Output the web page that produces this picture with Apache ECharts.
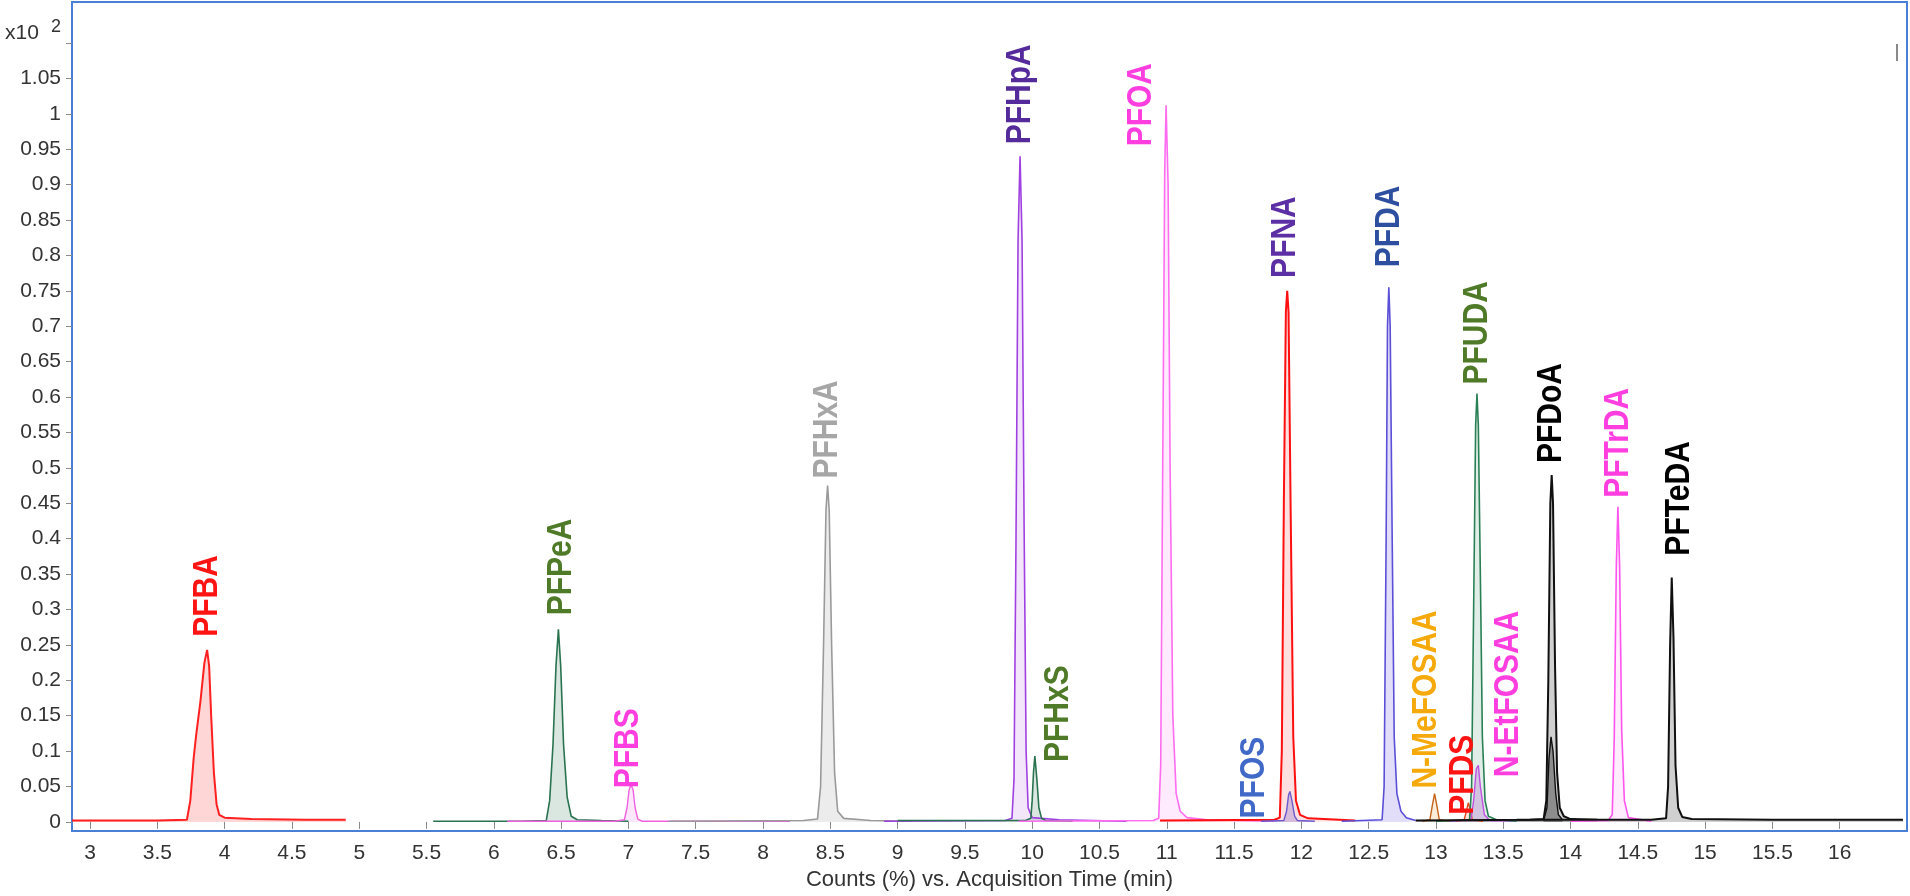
<!DOCTYPE html>
<html>
<head>
<meta charset="utf-8">
<title>PFAS chromatogram</title>
<script src="https://cdn.jsdelivr.net/npm/echarts@6/dist/echarts.min.js"></script>
<style>
  html, body { margin: 0; padding: 0; background: #ffffff; }
  #chart { width: 1910px; height: 896px; }
</style>
</head>
<body>
<div id="chart"></div>
<script>
// Axis tick positions (min and counts x10^2)
const timeTicks = [3, 3.5, 4, 4.5, 5, 5.5, 6, 6.5, 7, 7.5, 8, 8.5, 9, 9.5, 10, 10.5, 11, 11.5, 12, 12.5, 13, 13.5, 14, 14.5, 15, 15.5, 16];
const countTicks = [0, 0.05, 0.1, 0.15, 0.2, 0.25, 0.3, 0.35, 0.4, 0.45, 0.5, 0.55, 0.6, 0.65, 0.7, 0.75, 0.8, 0.85, 0.9, 0.95, 1, 1.05];

// Extracted ion chromatograms: [retention time (min), counts (x10^2)]
const pfba = [[2.866,0.002],[3.5,0.002],[3.72,0.003],[3.745,0.03],[3.77,0.09],[3.79,0.125],[3.82,0.17],[3.85,0.225],[3.87,0.243],[3.885,0.22],[3.9,0.15],[3.92,0.07],[3.94,0.025],[3.96,0.01],[4.0,0.006],[4.2,0.004],[4.6,0.003],[4.9,0.003]];
const pfpea = [[5.55,0.001],[6.2,0.001],[6.39,0.002],[6.415,0.03],[6.44,0.11],[6.462,0.22],[6.48,0.272],[6.497,0.22],[6.518,0.11],[6.545,0.035],[6.575,0.008],[6.62,0.003],[6.8,0.002],[7.0,0.001]];
const pfbs = [[6.1,0.001],[6.9,0.001],[6.97,0.003],[6.99,0.02],[7.005,0.045],[7.02,0.053],[7.035,0.045],[7.05,0.02],[7.07,0.004],[7.1,0.001],[8.2,0.001]];
const pfhxa = [[7.3,0.001],[8.3,0.002],[8.405,0.004],[8.428,0.05],[8.45,0.25],[8.468,0.44],[8.48,0.475],[8.492,0.44],[8.51,0.25],[8.532,0.07],[8.555,0.015],[8.6,0.005],[8.8,0.002],[9.1,0.001]];
const pfhpa = [[8.9,0.001],[9.8,0.002],[9.85,0.005],[9.865,0.06],[9.88,0.4],[9.895,0.82],[9.91,0.94],[9.925,0.82],[9.94,0.42],[9.955,0.1],[9.97,0.02],[10.0,0.006],[10.2,0.003],[10.7,0.001]];
const pfhxs = [[9.0,0.002],[9.95,0.002],[9.99,0.005],[10.0,0.03],[10.01,0.07],[10.02,0.093],[10.035,0.06],[10.05,0.02],[10.07,0.005],[10.1,0.002],[10.3,0.001]];
const pfoa = [[9.9,0.001],[10.9,0.002],[10.94,0.005],[10.955,0.08],[10.97,0.5],[10.985,0.92],[10.995,1.012],[11.01,0.9],[11.025,0.5],[11.045,0.15],[11.07,0.04],[11.1,0.015],[11.15,0.006],[11.3,0.003],[11.8,0.001]];
const pfna = [[10.95,0.002],[11.8,0.003],[11.84,0.006],[11.855,0.1],[11.87,0.45],[11.885,0.72],[11.895,0.75],[11.905,0.72],[11.92,0.45],[11.94,0.12],[11.96,0.03],[11.99,0.01],[12.05,0.005],[12.4,0.002]];
const pfos = [[11.7,0.001],[11.87,0.002],[11.89,0.015],[11.905,0.038],[11.915,0.043],[11.93,0.03],[11.95,0.008],[11.97,0.002],[12.1,0.001]];
const pfda = [[12.3,0.001],[12.6,0.003],[12.615,0.05],[12.63,0.4],[12.64,0.7],[12.65,0.755],[12.66,0.7],[12.675,0.4],[12.69,0.12],[12.71,0.04],[12.74,0.015],[12.78,0.006],[12.85,0.002]];
const nMeFosaa = [[12.9,0.001],[12.955,0.003],[12.975,0.025],[12.99,0.04],[13.005,0.025],[13.025,0.003],[13.1,0.001]];
const pfds = [[13.15,0.001],[13.21,0.003],[13.23,0.018],[13.24,0.027],[13.255,0.018],[13.27,0.003],[13.35,0.001]];
const nEtFosaa = [[13.1,0.001],[13.26,0.003],[13.28,0.03],[13.3,0.075],[13.315,0.08],[13.33,0.05],[13.36,0.01],[13.4,0.002],[13.6,0.001]];
const pfuda = [[13.0,0.001],[13.25,0.003],[13.265,0.05],[13.28,0.3],[13.295,0.56],[13.305,0.605],[13.315,0.56],[13.33,0.35],[13.345,0.12],[13.365,0.03],[13.39,0.008],[13.45,0.003],[13.6,0.001]];
const pfdoa = [[12.85,0.002],[13.7,0.003],[13.8,0.004],[13.82,0.03],[13.835,0.2],[13.85,0.45],[13.86,0.49],[13.87,0.45],[13.885,0.22],[13.9,0.07],[13.92,0.02],[13.95,0.008],[14.0,0.004],[14.2,0.003]];
const pfdoaQual = [[13.8,0.002],[13.825,0.02],[13.84,0.09],[13.855,0.12],[13.87,0.1],[13.89,0.04],[13.91,0.01],[13.94,0.003]];
const pftrda = [[14.0,0.001],[14.28,0.002],[14.31,0.01],[14.325,0.12],[14.34,0.36],[14.352,0.445],[14.365,0.36],[14.38,0.13],[14.4,0.03],[14.43,0.006],[14.6,0.001]];
const pfteda = [[13.6,0.003],[14.6,0.003],[14.71,0.005],[14.725,0.05],[14.74,0.25],[14.752,0.345],[14.765,0.26],[14.78,0.08],[14.8,0.02],[14.83,0.007],[14.9,0.004],[15.5,0.003],[16.47,0.003]];

// Drawing styles per trace: line colour, fill, label text colour, label nudges (px)
const OLIVE = '#4f7a28', MAGENTA = '#ff3ee0';
const traces = [
  { name: 'PFBA',      data: pfba,      line: '#ff2020', fill: 'rgba(255,70,70,0.32)',   width: 2,   text: '#ff1414', dx: 0,   gap: 13 },
  { name: 'PFPeA',     data: pfpea,     line: '#2a7350', fill: 'rgba(40,120,80,0.25)',   width: 1.6, text: OLIVE,     dx: 3,   gap: 14 },
  { name: 'PFBS',      data: pfbs,      line: '#f060e0', fill: 'rgba(240,96,224,0.22)',  width: 1.4, text: MAGENTA,   dx: -3,  gap: -4 },
  { name: 'PFHxA',     data: pfhxa,     line: '#9a9a9a', fill: 'rgba(175,175,175,0.35)', width: 1.6, text: '#a6a6a6', dx: 0,   gap: 7 },
  { name: 'PFHpA',     data: pfhpa,     line: '#a040e0', fill: 'rgba(170,80,230,0.2)',   width: 1.6, text: '#552b9c', dx: 0,   gap: 12 },
  { name: 'PFHxS',     data: pfhxs,     line: '#2a7350', fill: 'rgba(40,120,80,0.25)',   width: 1.6, text: OLIVE,     dx: 23,  gap: -6 },
  { name: 'PFOA',      data: pfoa,      line: '#ff6cf0', fill: 'rgba(255,112,240,0.2)',  width: 1.6, text: MAGENTA,   dx: -25, gap: -41 },
  { name: 'PFNA',      data: pfna,      line: '#ff1010', fill: 'rgba(255,80,80,0.25)',   width: 2,   text: '#5d2fa5', dx: -2,  gap: 13 },
  { name: 'PFOS',      data: pfos,      line: '#6a5acd', fill: 'rgba(110,95,205,0.4)',   width: 1.4, text: '#4169c8', dx: -36, gap: -27 },
  { name: 'PFDA',      data: pfda,      line: '#5a4fd6', fill: 'rgba(120,100,230,0.3)',  width: 1.6, text: '#2e4fa0', dx: 0,   gap: 20 },
  { name: 'N-MeFOSAA', data: nMeFosaa,  line: '#c4621c', fill: 'rgba(240,160,60,0.3)',   width: 1.4, text: '#f5a90a', dx: -8,  gap: 5 },
  { name: 'PFDS',      data: pfds,      line: '#e2481c', fill: 'rgba(240,90,60,0.25)',   width: 1.4, text: '#ff1414', dx: -5,  gap: -12 },
  { name: 'N-EtFOSAA', data: nEtFosaa,  line: '#c050e0', fill: 'rgba(200,100,230,0.45)', width: 1.4, text: MAGENTA,   dx: 30,  gap: -12 },
  { name: 'PFUDA',     data: pfuda,     line: '#2a8055', fill: 'rgba(42,138,92,0.2)',    width: 1.6, text: OLIVE,     dx: 0,   gap: 9 },
  { name: 'PFDoA',     data: pfdoa,     line: '#101010', fill: 'rgba(60,60,60,0.35)',    width: 2,   text: '#000000', dx: 0,   gap: 12 },
  { name: 'PFDoA-q',   data: pfdoaQual, line: '#101010', fill: 'rgba(20,20,20,0.5)',     width: 1.4, text: null },
  { name: 'PFTrDA',    data: pftrda,    line: '#ff55ee', fill: 'rgba(255,120,240,0.2)',  width: 1.6, text: MAGENTA,   dx: 0,   gap: 9 },
  { name: 'PFTeDA',    data: pfteda,    line: '#101010', fill: 'rgba(60,60,60,0.35)',    width: 2,   text: '#000000', dx: 8,   gap: 22 }
];

const chart = echarts.init(document.getElementById('chart'), null, { renderer: 'canvas' });

const FRAME = '#4a7fd8';
const AXIS_FONT = { fontFamily: 'Liberation Sans, Arial, sans-serif', fontSize: 21, color: '#333333' };

chart.setOption({
  backgroundColor: '#ffffff',
  animation: false,
  grid: {
    left: 72, right: 3, top: 2, bottom: 51,
    show: true, borderColor: FRAME, borderWidth: 2, backgroundColor: '#ffffff'
  },
  xAxis: {
    type: 'value',
    min: 2.866, max: 16.5,
    name: 'Counts (%) vs. Acquisition Time (min)',
    nameLocation: 'middle',
    nameGap: 33,
    nameTextStyle: { fontFamily: AXIS_FONT.fontFamily, fontSize: 22, color: '#333333' },
    axisLine: { show: false },
    splitLine: { show: false },
    axisTick: { show: true, length: 7, lineStyle: { color: '#8a8a8a', width: 1 }, customValues: timeTicks },
    axisLabel: { ...AXIS_FONT, margin: 12, customValues: timeTicks, formatter: v => String(v) }
  },
  yAxis: {
    type: 'value',
    min: -0.013, max: 1.158,
    axisLine: { show: false },
    splitLine: { show: false },
    axisTick: { show: true, length: 6, lineStyle: { color: '#8a8a8a', width: 1 }, customValues: countTicks.concat([1.1]) },
    axisLabel: { ...AXIS_FONT, margin: 11, customValues: countTicks, formatter: v => String(+(+v).toFixed(2)) }
  },
  series: traces.map(t => ({
    name: t.name,
    type: 'line',
    data: t.data,
    symbol: 'none',
    smooth: false,
    lineStyle: { color: t.line, width: t.width },
    areaStyle: { color: t.fill, origin: 0 },
    emphasis: { disabled: true }
  }))
});

// Compound labels, rotated, placed above each peak apex
const labelGraphics = [];
traces.forEach(t => {
  if (!t.text) return;
  let apex = t.data[0];
  t.data.forEach(p => { if (p[1] > apex[1]) apex = p; });
  const px = chart.convertToPixel({ xAxisIndex: 0, yAxisIndex: 0 }, apex);
  labelGraphics.push({
    type: 'text',
    x: px[0] + t.dx,
    y: px[1] - t.gap,
    rotation: Math.PI / 2,
    scaleY: 1.18,
    z: 100,
    style: {
      text: t.name,
      fill: t.text,
      font: 'bold 30px "Liberation Sans", Arial, sans-serif',
      align: 'left',
      verticalAlign: 'middle'
    }
  });
});

// Exponent marker of the count axis
labelGraphics.push({
  type: 'text', left: 5, top: 23, z: 100,
  style: { text: 'x10', font: '21px "Liberation Sans", Arial, sans-serif', fill: '#333333' }
});
labelGraphics.push({
  type: 'text', left: 51, top: 18, z: 100,
  style: { text: '2', font: '18px "Liberation Sans", Arial, sans-serif', fill: '#333333' }
});
// small marker at the upper right of the frame
labelGraphics.push({
  type: 'line', z: 100,
  shape: { x1: 1897, y1: 44, x2: 1897, y2: 61 },
  style: { stroke: '#8a8a8a', lineWidth: 2 }
});

chart.setOption({ graphic: labelGraphics });
</script>
</body>
</html>
